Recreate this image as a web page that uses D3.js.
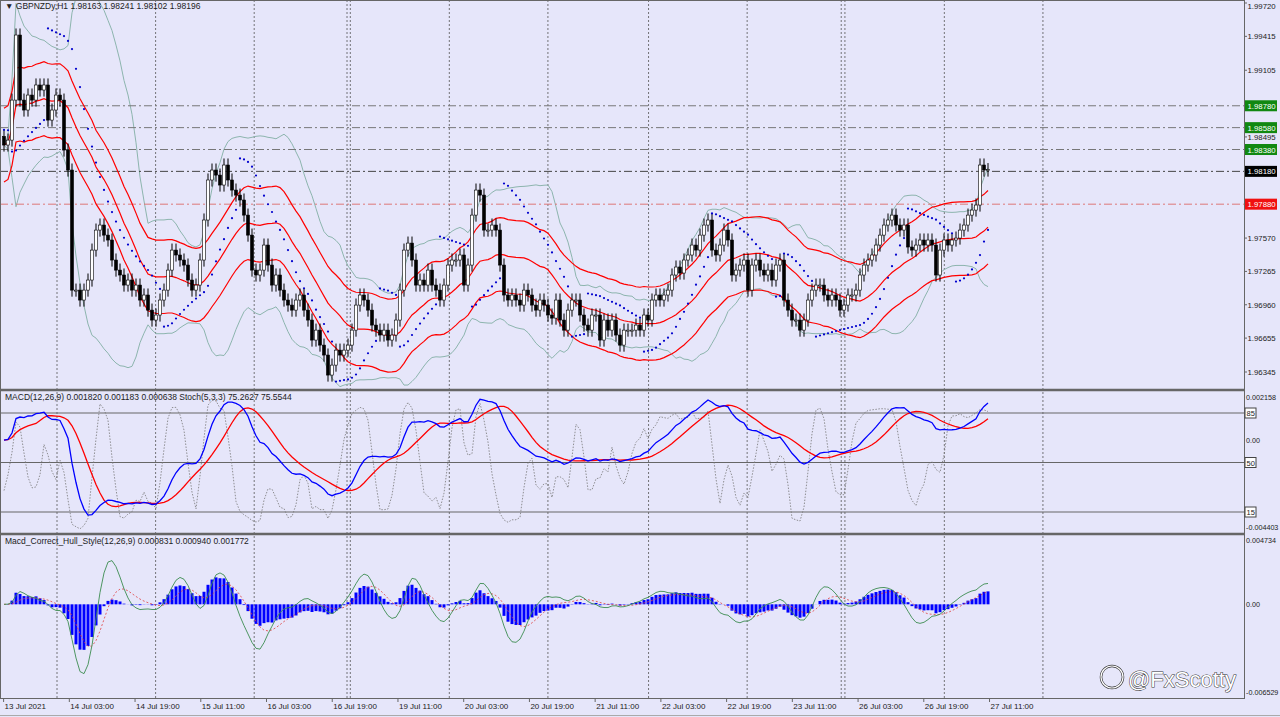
<!DOCTYPE html>
<html><head><meta charset="utf-8">
<script src="https://cdn.jsdelivr.net/npm/d3@7"></script>
<style>body{margin:0;background:#fff}svg{display:block}text{font-family:"Liberation Sans",Arial,sans-serif}</style>
</head><body><div class="chart"></div>
<script>
// closing prices, GBPNZDy H1, 13 Jul 11:00 .. 27 Jul
const closes = [1.98421,1.98466,1.98832,1.99427,1.98832,1.98741,1.98878,1.98832,1.98970,1.98924,1.98970,1.98649,1.98741,1.98878,1.98832,1.98375,1.98192,1.97094,1.97094,1.97003,
1.97094,1.97186,1.97460,1.97643,1.97689,1.97597,1.97552,1.97369,1.97277,1.97232,1.97140,1.97186,1.97094,1.97140,1.97003,1.97049,1.96911,1.96820,1.96866,1.97003,
1.97094,1.97277,1.97460,1.97415,1.97369,1.97323,1.97186,1.97094,1.97140,1.97369,1.97735,1.98101,1.98192,1.98146,1.98055,1.98238,1.98101,1.98009,1.97963,1.97918,
1.97780,1.97597,1.97277,1.97232,1.97277,1.97506,1.97323,1.97140,1.97232,1.97094,1.97003,1.96957,1.96911,1.97003,1.97049,1.96911,1.96820,1.96637,1.96728,1.96591,
1.96500,1.96317,1.96408,1.96545,1.96500,1.96545,1.96591,1.96728,1.96957,1.97049,1.97003,1.96911,1.96774,1.96728,1.96683,1.96728,1.96637,1.96683,1.96820,1.97094,
1.97460,1.97524,1.97369,1.97140,1.97186,1.97140,1.97277,1.97140,1.97094,1.97003,1.97140,1.97323,1.97369,1.97369,1.97415,1.97140,1.97323,1.97780,1.98009,1.97963,
1.97643,1.97643,1.97689,1.97643,1.97323,1.97049,1.97003,1.97049,1.97003,1.96957,1.97094,1.97049,1.96957,1.96911,1.97003,1.96957,1.96866,1.96838,1.97003,1.96820,
1.96728,1.96911,1.97003,1.97003,1.96866,1.96774,1.96728,1.96866,1.96866,1.96637,1.96820,1.96728,1.96820,1.96683,1.96591,1.96728,1.96728,1.96728,1.96774,1.96728,
1.96866,1.96820,1.97003,1.97049,1.97003,1.97049,1.97094,1.97232,1.97305,1.97250,1.97369,1.97415,1.97506,1.97460,1.97597,1.97689,1.97735,1.97460,1.97415,1.97506,
1.97643,1.97552,1.97232,1.97277,1.97323,1.97369,1.97094,1.97323,1.97369,1.97277,1.97232,1.97277,1.97186,1.97323,1.97369,1.97003,1.96911,1.96820,1.96820,1.96728,
1.96820,1.97003,1.97094,1.97140,1.97140,1.97049,1.97003,1.97049,1.97003,1.96911,1.96957,1.97049,1.97049,1.97094,1.97232,1.97323,1.97369,1.97415,1.97506,1.97597,
1.97689,1.97735,1.97780,1.97689,1.97643,1.97689,1.97488,1.97460,1.97506,1.97552,1.97506,1.97552,1.97506,1.97232,1.97460,1.97552,1.97506,1.97552,1.97570,1.97643,
1.97689,1.97780,1.97826,1.97872,1.98238,1.98192,1.98196];
const firstOpen = 1.98500;
const wick = 0.0006;

const priceTicks = [1.99720,1.99415,1.99105,1.98495,1.97570,1.97265,1.96960,1.96655,1.96345];
const levels = [1.98780,1.98580,1.98380];
const bidLevel = 1.98180, redLevel = 1.97880;
const timeLabels = ["13 Jul 2021","14 Jul 03:00","14 Jul 19:00","15 Jul 11:00","16 Jul 03:00","16 Jul 19:00","19 Jul 11:00","20 Jul 03:00","20 Jul 19:00","21 Jul 11:00","22 Jul 03:00","22 Jul 19:00","23 Jul 11:00","26 Jul 03:00","26 Jul 19:00","27 Jul 11:00"];
const gridHours = [13,37,61,83.6,84.4,108.5,132.5,157,181,203.9,204.8,229,253];
const stochLevels = [85,50,15];

const W = 1280, H = 717, R = 1244;
const BG = "#E6E6FA";
const svg = d3.select(".chart").append("svg").attr("width", W).attr("height", H);
svg.append("rect").attr("width", W).attr("height", H).attr("fill", BG);

// ---- derived OHLC ----
const N = closes.length;
const bars = closes.map((c, i) => {
  const o = i ? closes[i - 1] : firstOpen;
  return { i, o, c, h: Math.max(o, c) + wick, l: Math.min(o, c) - wick };
});

// ---- indicators ----
const sma = (a, n) => a.map((_, i) => d3.mean(a.slice(Math.max(0, i - n + 1), i + 1)));
const ema = (a, n) => { const k = 2 / (n + 1); let e = a[0]; return a.map(v => (e = v * k + e * (1 - k))); };
const wma = (a, n) => a.map((_, i) => { let s = 0, w = 0; for (let j = 0; j < n && i - j >= 0; j++) { s += a[i - j] * (n - j); w += n - j; } return s / w; });
const hma = (a, n) => { const h = wma(a, Math.round(n / 2)), f = wma(a, n); return wma(h.map((v, i) => 2 * v - f[i]), Math.round(Math.sqrt(n))); };

const ma20 = sma(closes, 20);
const sd20 = closes.map((_, i) => d3.deviation(closes.slice(Math.max(0, i - 19), i + 1)) || 0);
const bbU = ma20.map((m, i) => m + 2 * sd20[i]), bbL = ma20.map((m, i) => m - 2 * sd20[i]);
const env = 0.0017;
const envU = ma20.map(m => m * (1 + env)), envL = ma20.map(m => m * (1 - env));

// parabolic SAR
const sar = [];
{ let up = false, af = 0.02, ep = bars[0].l, s = bars[0].h;
  bars.forEach((b, i) => {
    if (i) { s = s + af * (ep - s);
      if (up) { if (b.l < s) { up = false; s = ep; ep = b.l; af = 0.02; } else if (b.h > ep) { ep = b.h; af = Math.min(0.2, af + 0.02); } }
      else { if (b.h > s) { up = true; s = ep; ep = b.h; af = 0.02; } else if (b.l < ep) { ep = b.l; af = Math.min(0.2, af + 0.02); } } }
    sar.push(s);
  }); }

const e12 = ema(closes, 12), e26 = ema(closes, 26);
const macd = e12.map((v, i) => v - e26[i]);
const sig = sma(macd, 9);
const kRaw = bars.map((b, i) => { const w = bars.slice(Math.max(0, i - 4), i + 1); const hh = d3.max(w, d => d.h), ll = d3.min(w, d => d.l); return 100 * (b.c - ll) / (hh - ll); });
const stoch = sma(kRaw, 3);

const h12 = hma(closes, 12), h26 = hma(closes, 26);
const hMacd = h12.map((v, i) => 0.55 * (v - h26[i]));
const hSig = ema(hMacd, 9);
const hHist = macd.map((v, i) => 1.2 * (v - sig[i]));

// ---- scales ----
const x = d3.scaleLinear().domain([0, N - 1]).range([4, 988]);
const hx = d3.scaleLinear().domain([0, 1]).range([3.6, 3.6 + 4.108]);
const y = d3.scaleLinear().domain([1.96345, 1.99720]).range([372, 3]);
const y2 = d3.scaleLinear().domain([-0.004403, 0.002158]).range([528, 397]);
const ys = d3.scaleLinear().domain([15, 85]).range([512, 413]);
const y3 = d3.scaleLinear().domain([-0.006529, 0.004734]).range([693, 540]);

// clip panes
const defs = svg.append("defs");
[["c1", 0, 389], ["c2", 391, 533], ["c3", 535, 698]].forEach(([id, a, b]) =>
  defs.append("clipPath").attr("id", id).append("rect").attr("x", 1).attr("y", a).attr("width", R - 1).attr("height", b - a));

// grid
const grid = svg.append("g");
gridHours.forEach(h => grid.append("line").attr("x1", hx(h)).attr("x2", hx(h)).attr("y1", 0).attr("y2", 698)
  .attr("stroke", "#555").attr("stroke-width", 0.8).attr("stroke-dasharray", "2,2"));

// ---- main pane ----
const g1 = svg.append("g").attr("clip-path", "url(#c1)");
const lineOf = (arr, ys_) => d3.line().x((d, i) => x(i)).y(d => ys_(d))(arr);
[bbU, bbL].forEach(a => g1.append("path").attr("d", lineOf(a, y)).attr("fill", "none").attr("stroke", "#8DB5AE").attr("stroke-width", 1));
levels.forEach(v => g1.append("line").attr("x1", 0).attr("x2", R).attr("y1", y(v)).attr("y2", y(v)).attr("stroke", "#777").attr("stroke-dasharray", "8,3,2,3"));
g1.append("line").attr("x1", 0).attr("x2", R).attr("y1", y(bidLevel)).attr("y2", y(bidLevel)).attr("stroke", "#444").attr("stroke-dasharray", "8,3,2,3");
g1.append("line").attr("x1", 0).attr("x2", R).attr("y1", y(redLevel)).attr("y2", y(redLevel)).attr("stroke", "#d77").attr("stroke-dasharray", "8,3,2,3");
[envU, ma20, envL].forEach(a => g1.append("path").attr("d", lineOf(a, y)).attr("fill", "none").attr("stroke", "#FF0000").attr("stroke-width", 1.2));

const cg = g1.append("g");
cg.selectAll("line").data(bars).join("line").attr("x1", d => x(d.i)).attr("x2", d => x(d.i))
  .attr("y1", d => y(d.h)).attr("y2", d => y(d.l)).attr("stroke", "#000").attr("stroke-width", 1);
cg.selectAll("rect").data(bars).join("rect").attr("x", d => x(d.i) - 1.5).attr("width", 3)
  .attr("y", d => y(Math.max(d.o, d.c))).attr("height", d => Math.max(1, Math.abs(y(d.o) - y(d.c))))
  .attr("fill", d => d.c >= d.o ? "#fff" : "#000").attr("stroke", "#000").attr("stroke-width", 0.6);
g1.selectAll("circle.sar").data(sar).join("circle").attr("class", "sar").attr("cx", (d, i) => x(i)).attr("cy", d => y(d)).attr("r", 1.1).attr("fill", "#0000CD");

// ---- MACD + Stoch pane ----
const g2 = svg.append("g").attr("clip-path", "url(#c2)");
stochLevels.forEach(v => g2.append("line").attr("x1", 0).attr("x2", R).attr("y1", ys(v)).attr("y2", ys(v)).attr("stroke", "#666").attr("stroke-width", 1));
g2.append("path").attr("d", lineOf(stoch, ys)).attr("fill", "none").attr("stroke", "#777").attr("stroke-width", 0.8).attr("stroke-dasharray", "1.5,1.5");
g2.append("path").attr("d", lineOf(sig, y2)).attr("fill", "none").attr("stroke", "#FF0000").attr("stroke-width", 1.3);
g2.append("path").attr("d", lineOf(macd, y2)).attr("fill", "none").attr("stroke", "#0000FF").attr("stroke-width", 1.3);

// ---- Hull MACD pane ----
const g3 = svg.append("g").attr("clip-path", "url(#c3)");
g3.selectAll("rect").data(hHist).join("rect").attr("x", (d, i) => x(i) - 1.5).attr("width", 3)
  .attr("y", d => Math.min(y3(d), y3(0))).attr("height", d => Math.abs(y3(d) - y3(0))).attr("fill", "#0000FF");
g3.append("path").attr("d", lineOf(hSig, y3)).attr("fill", "none").attr("stroke", "#E04040").attr("stroke-width", 0.8).attr("stroke-dasharray", "2,2");
g3.append("path").attr("d", lineOf(hMacd, y3)).attr("fill", "none").attr("stroke", "#3C8C50").attr("stroke-width", 0.9);

// ---- frames ----
const fr = svg.append("g").attr("fill", "none").attr("stroke", "#666");
fr.append("rect").attr("x", 0.5).attr("y", 0.5).attr("width", R).attr("height", 698);
[390, 534].forEach(v => fr.append("line").attr("x1", 0).attr("x2", R).attr("y1", v).attr("y2", v).attr("stroke-width", 2.5));

// ---- right axes ----
const ax = svg.append("g").attr("font-size", 7.8).attr("fill", "#222");
priceTicks.forEach(v => { ax.append("line").attr("x1", R).attr("x2", R + 3).attr("y1", y(v)).attr("y2", y(v)).attr("stroke", "#666");
  ax.append("text").attr("x", R + 3.5).attr("y", Math.max(9, y(v) + 3)).text(v.toFixed(5)); });
const tag = (v, col) => { ax.append("rect").attr("x", R + 1).attr("y", y(v) - 5.5).attr("width", 32).attr("height", 11).attr("fill", col);
  ax.append("text").attr("x", R + 3.5).attr("y", y(v) + 3).attr("fill", "#fff").text(v.toFixed(5)); };
levels.forEach(v => tag(v, "#118811"));
tag(bidLevel, "#000"); tag(redLevel, "#F01010");
[[0.002158, 400], [0, y2(0) + 3], [-0.004403, 530]].forEach(([v, yy]) => ax.append("text").attr("x", R + 2).attr("y", yy).attr("font-size", 7.2).text(v === 0 ? "0.00" : v.toFixed(6)));
stochLevels.forEach(v => { ax.append("rect").attr("x", R + 1).attr("y", ys(v) - 5).attr("width", 11).attr("height", 10).attr("fill", "#fff").attr("stroke", "#444");
  ax.append("text").attr("x", R + 2.5).attr("y", ys(v) + 3).attr("font-size", 7.5).text(v); });
[[0.004734, 543], [0, y3(0) + 3], [-0.006529, 695]].forEach(([v, yy]) => ax.append("text").attr("x", R + 2).attr("y", yy).attr("font-size", 7.2).text(v === 0 ? "0.00" : v.toFixed(6)));

// ---- time axis ----
timeLabels.forEach((t, k) => { const xx = hx(k * 16);
  ax.append("line").attr("x1", xx).attr("x2", xx).attr("y1", 698).attr("y2", 702).attr("stroke", "#666");
  ax.append("text").attr("x", xx + 1).attr("y", 709).attr("font-size", 8).text(t); });
svg.append("line").attr("x1", 0).attr("x2", W).attr("y1", 715.5).attr("y2", 715.5).attr("stroke", "#aaa");

// ---- labels ----
const lab = svg.append("g").attr("font-size", 8.5).attr("fill", "#222");
lab.append("text").attr("x", 5).attr("y", 9).text("▼ GBPNZDy,H1  1.98163 1.98241 1.98102 1.98196");
lab.append("text").attr("x", 5).attr("y", 400).text("MACD(12,26,9) 0.001820 0.001183 0.000638  Stoch(5,3,3) 75.2627 75.5544");
lab.append("text").attr("x", 5).attr("y", 544).text("Macd_Correct_Hull_Style(12,26,9) 0.000831 0.000940 0.001772");

// watermark
const wm = svg.append("g").attr("transform", "translate(1100,664)");
wm.append("circle").attr("cx", 12).attr("cy", 13).attr("r", 11).attr("fill", "none").attr("stroke", "#333").attr("stroke-width", 2.5);
wm.append("circle").attr("cx", 12).attr("cy", 13).attr("r", 11).attr("fill", "none").attr("stroke", "#fff").attr("stroke-width", 1.2);
wm.append("text").attr("x", 28).attr("y", 23).attr("font-size", 22).attr("font-family", "Open Sans").attr("fill", "#fff")
  .attr("stroke", "#333").attr("stroke-width", 1).attr("paint-order", "stroke").text("@FxScotty");
</script></body></html>
